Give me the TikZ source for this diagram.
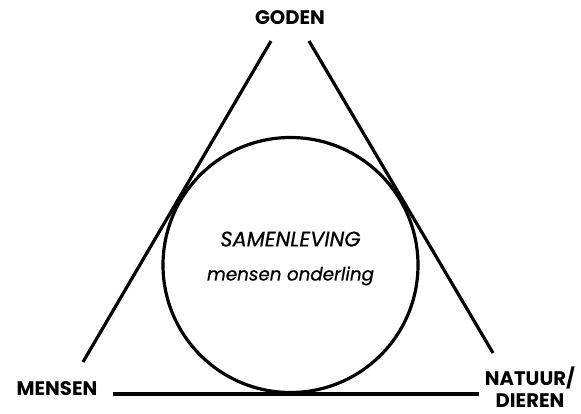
\documentclass[tikz,border=0pt]{standalone}
\usepackage{fontspec}
\setmainfont{Poppins}
\begin{document}
\begin{tikzpicture}[x=1pt, y=-1pt,
    corner/.style={font=\bfseries\fontsize{19.6}{22}\selectfont, align=center, inner sep=0pt},
    inside/.style={font=\itshape\addfontfeatures{FakeBold=0.6}, align=center, inner sep=0pt},
    triside/.style={line width=3.2pt},
    ring/.style={draw, circle, line width=3.2pt, minimum size=255pt, inner sep=0pt}
]
    \useasboundingbox (0,0) rectangle (581,414);

    \node (goden) [corner] at (290,18) {GODEN};
    \node (mensen) [corner] at (57,389) {MENSEN};
    \node (natuur) [corner] at (530,387) {NATUUR/\\DIEREN};

    \node (samenleving) [ring] at (290.5,265) {};
    \node (onderling) [inside] at ([yshift=6.5pt]samenleving.center)
        {{\fontsize{21}{25}\selectfont SAMENLEVING}\\[19pt]{\fontsize{18.3}{22}\selectfont mensen onderling}};

    \coordinate (topL) at (271,41);
    \coordinate (baseL) at (83,362);
    \coordinate (topR) at (309,41);
    \coordinate (baseR) at (493,353);
    \coordinate (bottomL) at (113,394);
    \coordinate (bottomR) at (479,394);

    \draw [triside] (topL) -- (baseL);
    \draw [triside] (topR) -- (baseR);
    \draw [triside] (bottomL) -- (bottomR);
\end{tikzpicture}
\end{document}
